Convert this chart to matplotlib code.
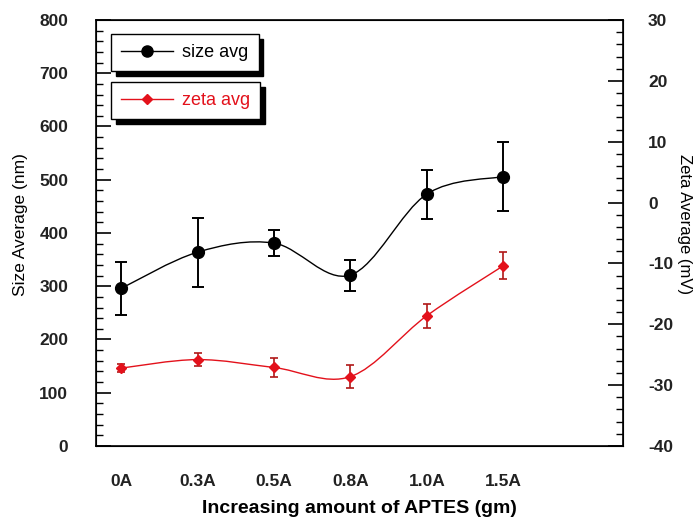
import numpy as np
import matplotlib
matplotlib.use("Agg")
import matplotlib.pyplot as plt
from matplotlib.path import Path
from matplotlib.patches import PathPatch
from matplotlib.lines import Line2D
from matplotlib.ticker import MultipleLocator

plt.rcParams['font.family'] = ['Liberation Sans', 'DejaVu Sans']
plt.rcParams['axes.unicode_minus'] = False

# data
categories = ["0A", "0.3A", "0.5A", "0.8A", "1.0A", "1.5A"]
size_avg = [296, 364, 381, 321, 473, 506]
size_err = [50, 65, 25, 29, 46, 65]
zeta_avg = [-27.2, -25.8, -27.1, -28.6, -18.6, -10.4]
zeta_err = [0.7, 1.1, 1.5, 1.9, 2.0, 2.2]

RED = "#e3111b"


def smooth_path(xs, ys):
    # catmull-rom style cubic bezier through the points
    pts = np.column_stack([xs, ys]).astype(float)
    ext = np.vstack([pts[0], pts, pts[-1]])
    verts = [tuple(pts[0])]
    codes = [Path.MOVETO]
    for i in range(1, len(ext) - 2):
        p0, p1, p2, p3 = ext[i - 1], ext[i], ext[i + 1], ext[i + 2]
        c1 = p1 + (p2 - p0) / 6.0
        c2 = p2 - (p3 - p1) / 6.0
        verts += [tuple(c1), tuple(c2), tuple(p2)]
        codes += [Path.CURVE4] * 3
    return Path(verts, codes)


fig = plt.figure(figsize=(6.97, 5.22), dpi=100)
ax = fig.add_axes([0.1377, 0.1456, 0.7563, 0.8161])
ax2 = ax.twinx()

x = np.arange(len(categories))

# size average (left axis)
ax.add_patch(PathPatch(smooth_path(x, size_avg), fill=False, edgecolor="black", lw=1.0, zorder=2))
ax.errorbar(x, size_avg, yerr=size_err, fmt="o", color="black", ms=8.5,
            ecolor="black", elinewidth=1.4, capsize=4, capthick=1.4, zorder=3)

# zeta average (right axis)
ax2.add_patch(PathPatch(smooth_path(x, zeta_avg), fill=False, edgecolor=RED, lw=1.0, zorder=2))
ax2.errorbar(x, zeta_avg, yerr=zeta_err, fmt="D", color=RED, ms=5,
             ecolor="#b01818", elinewidth=1.2, capsize=3, capthick=1.2, zorder=3)

ax.set_xlim(-0.33, 6.57)
ax.set_ylim(0, 800)
ax2.set_ylim(-40, 30)

ax.set_xticks(x)
ax.set_xticklabels(categories)
ax.yaxis.set_major_locator(MultipleLocator(100))
ax.yaxis.set_minor_locator(MultipleLocator(20))
ax2.yaxis.set_major_locator(MultipleLocator(10))
ax2.yaxis.set_minor_locator(MultipleLocator(2))

ax.tick_params(axis="x", length=0, pad=20)
ax.tick_params(axis="y", which="major", direction="in", length=11, width=1.2, pad=20)
ax.tick_params(axis="y", which="minor", direction="in", length=5, width=1.0)
ax2.tick_params(axis="y", which="major", direction="in", length=11, width=1.2, pad=18)
ax2.tick_params(axis="y", which="minor", direction="in", length=5, width=1.0)
for lab in ax.get_xticklabels() + ax.get_yticklabels() + ax2.get_yticklabels():
    lab.set_fontsize(12.5)
    lab.set_fontweight("bold")
    lab.set_color("#222222")

for sp in ax.spines.values():
    sp.set_linewidth(1.2)

ax.set_ylabel("Size Average (nm)", fontsize=12.5, va="center")
ax.yaxis.set_label_coords(-0.144, 0.52)
ax2.set_ylabel("Zeta Average (mV)", fontsize=12, rotation=-90, va="center")
ax2.yaxis.set_label_coords(1.117, 0.52)
ax.set_xlabel("Increasing amount of APTES (gm)", fontsize=14, fontweight="bold", labelpad=8)

# two separate legend boxes with hard shadow
shadow = {"ox": 3.5, "oy": -3.5, "color": "black", "alpha": 1}
h1 = Line2D([], [], color="black", marker="o", ms=8, lw=1.0)
h2 = Line2D([], [], color=RED, marker="D", ms=5, lw=1.0)
leg_kw = dict(loc="upper left", borderaxespad=0, fancybox=False, shadow=shadow,
              edgecolor="black", framealpha=1, fontsize=13, handlelength=2.9,
              borderpad=0.55, handletextpad=0.5)
leg1 = ax2.legend([h1], ["size avg"], bbox_to_anchor=(0.0285, 0.967),
                  labelcolor="black", **leg_kw)
leg1.get_frame().set_linewidth(1.0)
ax2.add_artist(leg1)
leg2 = ax2.legend([h2], ["zeta avg"], bbox_to_anchor=(0.0285, 0.854),
                  labelcolor=RED, **leg_kw)
leg2.get_frame().set_linewidth(1.0)

fig.savefig("out.png", dpi=100)
